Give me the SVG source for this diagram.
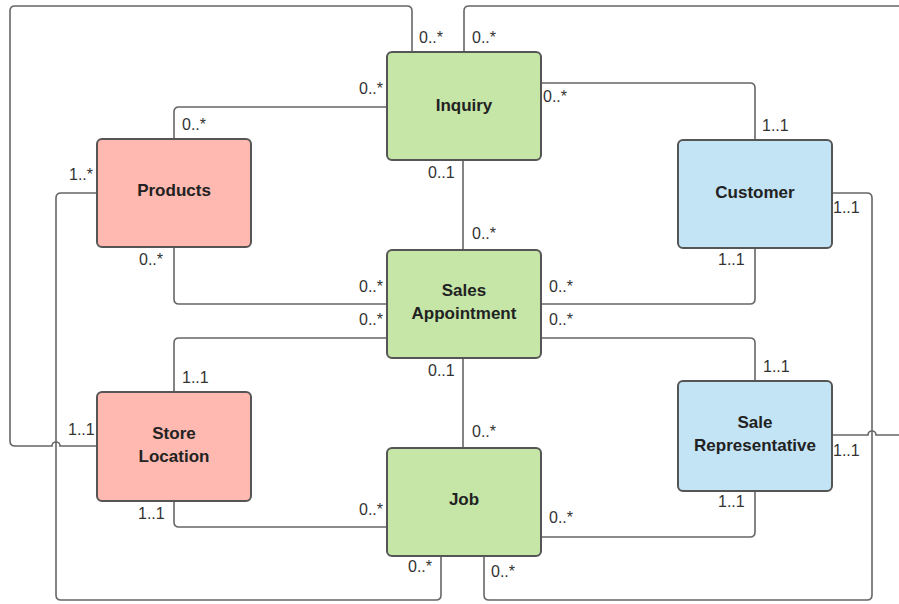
<svg xmlns="http://www.w3.org/2000/svg" width="899" height="604" viewBox="0 0 899 604">
<style>
.n rect{stroke:#555;stroke-width:2;rx:5}
.g rect{fill:#c5e6a7}
.p rect{fill:#ffb9b0}
.b rect{fill:#c3e4f5}
.n text{font-family:"Liberation Sans",Arial,sans-serif;font-weight:bold;font-size:17px;fill:#222;text-anchor:middle}
#connectors path{fill:none;stroke:#666;stroke-width:1.6}
#labels text{font-family:"Liberation Sans",Arial,sans-serif;font-size:16px;fill:#333}
</style>
<rect width="899" height="604" fill="#fff"/>
<g id="connectors">
<path d="M412,52 V11 Q412,6 407,6 H15 Q10,6 10,11 V441 Q10,446 15,446 H52 A4,4 0 0 1 60,446 H97"/>
<path d="M464,52 V11 Q464,6 469,6 H910 V435 H876 A4,4 0 0 0 868,435 H832"/>
<path d="M832,193 H867 Q872,193 872,198 V595 Q872,600 867,600 H489 Q484,600 484,595 V556"/>
<path d="M97,193 H61 Q56,193 56,198 V595 Q56,600 61,600 H436 Q441,600 441,595 V556"/>
<path d="M174,139 V112 Q174,107 179,107 H387"/>
<path d="M541,83 H750 Q755,83 755,88 V140"/>
<path d="M463,160 V250"/>
<path d="M174,247 V299 Q174,304 179,304 H387"/>
<path d="M387,338 H179 Q174,338 174,343 V392"/>
<path d="M755,248 V299 Q755,304 750,304 H541"/>
<path d="M541,338 H750 Q755,338 755,343 V381"/>
<path d="M463,358 V448"/>
<path d="M174,501 V522 Q174,527 179,527 H387"/>
<path d="M755,491 V532 Q755,537 750,537 H541"/>
</g>
<g id="inquiry" class="n g"><rect x="387" y="52" width="154" height="108"/><text x="464" y="111">Inquiry</text></g>
<g id="products" class="n p"><rect x="97" y="139" width="154" height="108"/><text x="174" y="196">Products</text></g>
<g id="customer" class="n b"><rect x="678" y="140" width="154" height="108"/><text x="755" y="198">Customer</text></g>
<g id="sales-appointment" class="n g"><rect x="387" y="250" width="154" height="108"/><text x="464" y="296">Sales</text><text x="464" y="319">Appointment</text></g>
<g id="store-location" class="n p"><rect x="97" y="392" width="154" height="109"/><text x="174" y="439">Store</text><text x="174" y="462">Location</text></g>
<g id="sale-representative" class="n b"><rect x="678" y="381" width="154" height="110"/><text x="755" y="428">Sale</text><text x="755" y="451">Representative</text></g>
<g id="job" class="n g"><rect x="387" y="448" width="154" height="108"/><text x="464" y="505">Job</text></g>
<g id="labels">
<text x="419" y="43">0..*</text>
<text x="472" y="43">0..*</text>
<text x="359" y="94">0..*</text>
<text x="182" y="130">0..*</text>
<text x="69" y="180">1..*</text>
<text x="428" y="178">0..1</text>
<text x="543" y="102">0..*</text>
<text x="762" y="131">1..1</text>
<text x="833" y="213">1..1</text>
<text x="472" y="239">0..*</text>
<text x="718" y="265">1..1</text>
<text x="549" y="292">0..*</text>
<text x="549" y="325">0..*</text>
<text x="763" y="372">1..1</text>
<text x="139" y="265">0..*</text>
<text x="359" y="292">0..*</text>
<text x="359" y="325">0..*</text>
<text x="182" y="383">1..1</text>
<text x="428" y="376">0..1</text>
<text x="68" y="435">1..1</text>
<text x="138" y="519">1..1</text>
<text x="359" y="515">0..*</text>
<text x="408" y="572">0..*</text>
<text x="472" y="437">0..*</text>
<text x="833" y="456">1..1</text>
<text x="718" y="507">1..1</text>
<text x="549" y="523">0..*</text>
<text x="491" y="577">0..*</text>
</g>
</svg>
